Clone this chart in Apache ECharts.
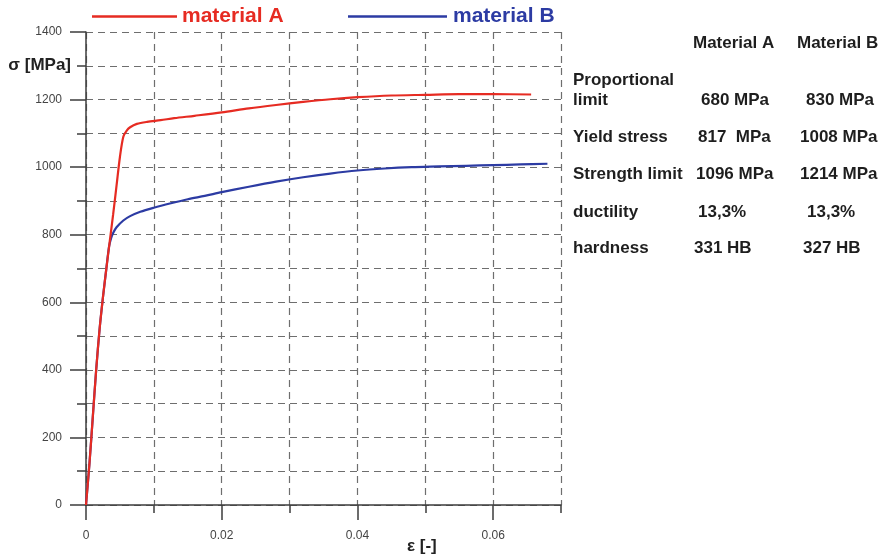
<!DOCTYPE html>
<html>
<head>
<meta charset="UTF-8"/>
<title>Stress-strain curves</title>
<script src="https://cdn.jsdelivr.net/npm/echarts@6.0.0/dist/echarts.min.js"></script>
<style>
  html, body { margin: 0; padding: 0; background: #fff; }
</style>
</head>
<body>
<div id="main" style="width: 886px;height:557px;"></div>
<script>
    // strain [-], stress [MPa]
    var materialA = [
        [0, 0], [0.0005, 120], [0.001, 260], [0.0015, 400], [0.002, 520],
        [0.0025, 615], [0.003, 700], [0.0035, 780], [0.004, 860], [0.0045, 945],
        [0.005, 1030], [0.0055, 1090], [0.006, 1108], [0.0065, 1118], [0.0075, 1128],
        [0.009, 1134], [0.011, 1139], [0.013, 1145], [0.016, 1152], [0.02, 1162],
        [0.024, 1174], [0.028, 1184], [0.032, 1193], [0.036, 1201], [0.04, 1207],
        [0.045, 1212], [0.05, 1214], [0.055, 1216], [0.06, 1216], [0.0656, 1215]
    ];
    var materialB = [
        [0, 0], [0.0005, 120], [0.001, 260], [0.0015, 400], [0.002, 520],
        [0.0025, 615], [0.003, 700], [0.0034, 765], [0.0037, 790], [0.004, 805],
        [0.0045, 822], [0.0055, 842], [0.0065, 855], [0.008, 868], [0.01, 880],
        [0.0125, 893], [0.015, 905], [0.0175, 915], [0.02, 926], [0.024, 942],
        [0.028, 957], [0.032, 970], [0.036, 981], [0.04, 990], [0.044, 996],
        [0.048, 1000], [0.052, 1002], [0.056, 1004], [0.06, 1006], [0.064, 1008],
        [0.068, 1010]
    ];
    var seriesNames = ['material A', 'material B'];
    var xLabelValues = [0, 0.02, 0.04, 0.06];

    // table on the right
    var tableHeaders = ['Material A', 'Material B'];
    var rowLabels = ['limit', 'Yield stress', 'Strength limit', 'ductility', 'hardness'];
    var valuesA = ['680 MPa', '817  MPa', '1096 MPa', '13,3%', '331 HB'];
    var valuesB = ['830 MPa', '1008 MPa', '1214 MPa', '13,3%', '327 HB'];

    var FONT = 'Liberation Sans, Arial, sans-serif';
    var RED = '#e62b22';
    var BLUE = '#2c3ba3';
    var AXIS = '#3c3c3c';

    // table layout
    var rowY = [100, 137, 174, 212, 248];
    var colAx = [701, 698, 696, 698, 694];
    var colBx = [806, 800, 800, 807, 803];

    function txt(x, y, s) {
        return {
            type: 'text', x: x, y: y,
            style: {
                text: s, fill: '#1e1e1e', font: 'bold 17px ' + FONT,
                verticalAlign: 'middle'
            }
        };
    }
    var graphics = [];
    graphics.push(txt(693, 43, tableHeaders[0]));
    graphics.push(txt(797, 43, tableHeaders[1]));
    graphics.push(txt(573, 80, 'Proportional'));
    for (var i = 0; i < rowLabels.length; i++) {
        graphics.push(txt(573, rowY[i], rowLabels[i]));
        graphics.push(txt(colAx[i], rowY[i], valuesA[i]));
        graphics.push(txt(colBx[i], rowY[i], valuesB[i]));
    }
    graphics.push({
        type: 'text', x: 407, y: 546,
        style: {
            text: 'ε [-]', fill: '#222', font: 'bold 17px ' + FONT,
            verticalAlign: 'middle'
        }
    });

    var myChart = echarts.init(document.getElementById('main'));

    var dashed = { show: true, lineStyle: { color: '#6e6e6e', width: 1.2, type: [7, 5] } };

    var option = {
        backgroundColor: '#fff',
        animation: false,
        textStyle: { fontFamily: FONT },
        grid: { left: 86, right: 325, top: 32, bottom: 52, outerBoundsMode: 'none' },
        legend: [
            {
                data: [seriesNames[0]], left: 87, top: 1, icon: 'rect',
                itemWidth: 85, itemHeight: 2.5,
                textStyle: { color: RED, fontSize: 21, fontWeight: 'bold', padding: [0, 0, 0, 0] }
            },
            {
                data: [seriesNames[1]], left: 343, top: 1, icon: 'rect',
                itemWidth: 99, itemHeight: 2.5,
                textStyle: { color: BLUE, fontSize: 21, fontWeight: 'bold', padding: [0, 0, 0, 1] }
            }
        ],
        xAxis: [
            {   // minor grid every 0.01
                type: 'value', min: 0, max: 0.07, interval: 0.01, position: 'bottom',
                axisLine: { show: true, lineStyle: { color: AXIS, width: 1.5 } },
                axisTick: { show: true, length: 8, lineStyle: { color: AXIS, width: 1.5 } },
                axisLabel: { show: false },
                splitLine: dashed
            },
            {   // labelled ticks every 0.02
                type: 'value', min: 0, max: 0.07, interval: 0.01, position: 'bottom',
                axisLine: { show: false },
                axisTick: { show: true, length: 15, customValues: xLabelValues, lineStyle: { color: AXIS, width: 1.5 } },
                axisLabel: {
                    show: true, margin: 25, customValues: xLabelValues,
                    color: '#444', fontSize: 12,
                    formatter: function (v) { return v === 0 ? '0' : String(v); }
                },
                splitLine: { show: false }
            }
        ],
        yAxis: [
            {   // minor grid every 100
                type: 'value', min: 0, max: 1400, interval: 100, position: 'left',
                axisLine: { show: true, lineStyle: { color: AXIS, width: 1.5 } },
                axisTick: { show: true, length: 9, lineStyle: { color: AXIS, width: 1.5 } },
                axisLabel: {
                    show: true, margin: 15, color: '#222', fontSize: 17, fontWeight: 'bold',
                    formatter: function (v) { return v === 1300 ? 'σ [MPa]' : ''; }
                },
                splitLine: dashed
            },
            {   // labelled ticks every 200
                type: 'value', min: 0, max: 1400, interval: 200, position: 'left',
                axisLine: { show: false },
                axisTick: { show: true, length: 16, lineStyle: { color: AXIS, width: 1.5 } },
                axisLabel: {
                    show: true, margin: 24, color: '#444', fontSize: 12,
                    formatter: function (v) { return String(v); }
                },
                splitLine: { show: false }
            }
        ],
        graphic: graphics,
        series: [
            {
                name: seriesNames[1], type: 'line', data: materialB,
                xAxisIndex: 0, yAxisIndex: 0, symbol: 'none', smooth: 0.3,
                lineStyle: { color: BLUE, width: 2.2 }, itemStyle: { color: BLUE }
            },
            {
                name: seriesNames[0], type: 'line', data: materialA,
                xAxisIndex: 0, yAxisIndex: 0, symbol: 'none', smooth: 0.3,
                lineStyle: { color: RED, width: 2.2 }, itemStyle: { color: RED }
            }
        ]
    };

    myChart.setOption(option);
</script>
</body>
</html>
